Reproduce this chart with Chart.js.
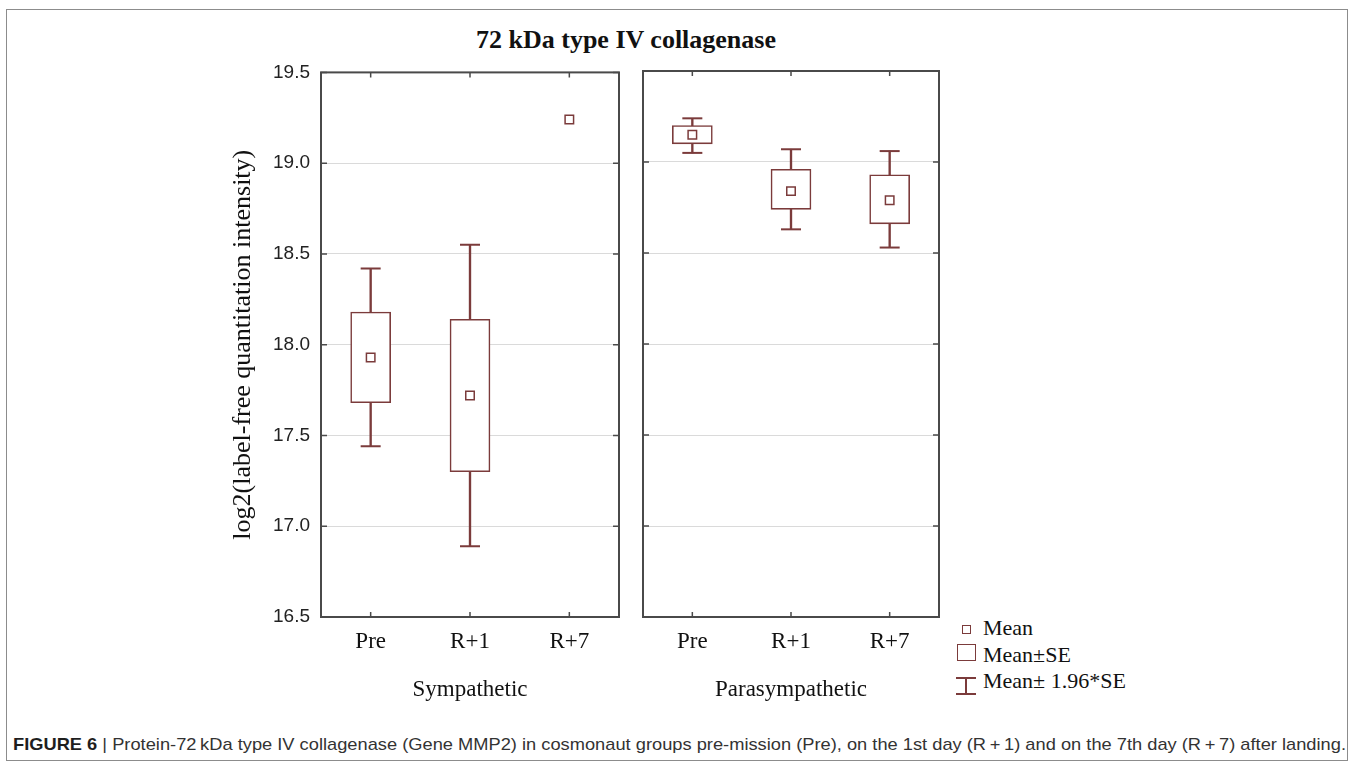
<!DOCTYPE html>
<html><head><meta charset="utf-8">
<script src="https://cdn.jsdelivr.net/npm/chart.js@4.4.1/dist/chart.umd.min.js"></script>
<style>
html,body{margin:0;padding:0;background:#fff;width:1356px;height:770px;overflow:hidden;}
#frame{position:absolute;left:6px;top:9px;width:1342px;height:752px;border:1.5px solid #8c8c8c;box-sizing:border-box;}
#title{position:absolute;left:326px;width:600px;top:25px;line-height:30px;text-align:center;font:bold 26px "Liberation Serif";color:#111;}
canvas{position:absolute;}
.lg{position:absolute;left:983px;font:22px "Liberation Serif";color:#111;line-height:26px;white-space:nowrap;}
.ic{position:absolute;box-sizing:border-box;border:1.5px solid #7b3b3b;}
#caption{position:absolute;left:13px;top:735px;font:17px "Liberation Sans";color:#333;white-space:nowrap;transform-origin:0 0;line-height:20px;}
#caption b{color:#1e1e1e;}
</style></head>
<body>
<div id="frame"></div>
<div id="title">72 kDa type IV collagenase</div>
<canvas id="cL" width="430" height="670" style="left:201px;top:50px"></canvas>
<canvas id="cR" width="320" height="670" style="left:631px;top:50px"></canvas>
<div class="ic" style="left:962px;top:625px;width:9px;height:9px"></div>
<div class="lg" style="top:615px">Mean</div>
<div class="ic" style="left:957px;top:644px;width:19px;height:17px"></div>
<div class="lg" style="top:642px">Mean±SE</div>
<div style="position:absolute;left:956px;top:677px;width:20px;height:2px;background:#7b3b3b"></div>
<div style="position:absolute;left:965px;top:677px;width:1.6px;height:18px;background:#7b3b3b"></div>
<div style="position:absolute;left:956px;top:693px;width:20px;height:2px;background:#7b3b3b"></div>
<div class="lg" style="top:668px">Mean± 1.96*SE</div>
<div id="caption"><b>FIGURE 6</b> | Protein-72&#8201;kDa type IV collagenase (Gene MMP2) in cosmonaut groups pre-mission (Pre), on the 1st day (R&#8201;+&#8201;1) and on the 7th day (R&#8201;+&#8201;7) after landing.</div>
<script>
const categories = ['Pre', 'R+1', 'R+7'];
const yTicks = [16.5, 17.0, 17.5, 18.0, 18.5, 19.0, 19.5];
const groupNames = ['Sympathetic', 'Parasympathetic'];

const symMean = [17.93, 17.72, 19.24];
const symSeLo = [17.68, 17.30, null];
const symSeHi = [18.18, 18.14, null];
const symCiLo = [17.44, 16.89, null];
const symCiHi = [18.42, 18.55, null];

const paraMean = [19.15, 18.84, 18.79];
const paraSeLo = [19.10, 18.74, 18.66];
const paraSeHi = [19.20, 18.96, 18.93];
const paraCiLo = [19.05, 18.63, 18.53];
const paraCiHi = [19.24, 19.07, 19.06];

const MAROON = '#7b3b3b';

function pair(a, b) { return a.map((v, i) => (v == null || b[i] == null) ? null : [v, b[i]]); }

function makeDatasets(mean, seLo, seHi, ciLo, ciHi) {
  return [
    {type: 'line', label: 'Mean', data: mean, showLine: false, pointStyle: 'rect', pointRadius: 6,
     pointBackgroundColor: '#fff', pointBorderColor: MAROON, pointBorderWidth: 1.5, order: 0},
    {type: 'bar', label: 'Mean±SE', data: pair(seLo, seHi), backgroundColor: '#fff', borderColor: MAROON,
     borderWidth: 1.6, borderSkipped: false, barThickness: 40, grouped: false, order: 1},
    {type: 'line', label: 'upper', data: ciHi, showLine: false, pointStyle: 'line', pointRadius: 10,
     pointBorderColor: MAROON, pointBorderWidth: 2, order: 2},
    {type: 'line', label: 'lower', data: ciLo, showLine: false, pointStyle: 'line', pointRadius: 10,
     pointBorderColor: MAROON, pointBorderWidth: 2, order: 2},
    {type: 'bar', label: 'Mean±1.96*SE', data: pair(ciLo, ciHi), backgroundColor: MAROON, borderWidth: 0,
     barThickness: 1.7, grouped: false, order: 3}
  ];
}

const framePlugin = {
  id: 'frame',
  afterDatasetsDraw(chart) {
    const {ctx, chartArea: a, scales: {x, y}} = chart;
    ctx.save();
    ctx.strokeStyle = '#4a4a4a';
    ctx.lineWidth = 2;
    ctx.strokeRect(a.left, a.top, a.right - a.left, a.bottom - a.top);
    ctx.lineWidth = 1.5;
    ctx.beginPath();
    categories.forEach((c, i) => {
      const px = x.getPixelForValue(i);
      ctx.moveTo(px, a.top); ctx.lineTo(px, a.top + 5);
      ctx.moveTo(px, a.bottom); ctx.lineTo(px, a.bottom - 5);
    });
    yTicks.forEach(v => {
      const py = y.getPixelForValue(v);
      ctx.moveTo(a.left, py); ctx.lineTo(a.left + 6, py);
      ctx.moveTo(a.right, py); ctx.lineTo(a.right - 6, py);
    });
    ctx.stroke();
    ctx.restore();
  }
};

function makeChart(id, datasets, groupName, isLeft) {
  return new Chart(document.getElementById(id), {
    type: 'bar',
    data: {labels: categories, datasets: datasets},
    options: {
      responsive: false, animation: false, events: [],
      layout: {padding: isLeft ? {left: 0, right: 10, top: 21, bottom: 0} : {left: 11, right: 9, top: 21, bottom: 0}},
      plugins: {legend: {display: false}, tooltip: {enabled: false}},
      scales: {
        x: {
          offset: true,
          grid: {display: false, drawTicks: false},
          border: {display: false},
          ticks: {font: {family: 'Liberation Serif', size: 23}, color: '#111', padding: 11},
          title: {display: true, text: groupName, font: {family: 'Liberation Serif', size: 23}, color: '#111',
                  padding: {top: 0, bottom: 16}},
          afterFit: s => { s.height = 103; }
        },
        y: {
          min: 16.5, max: 19.5,
          grid: {color: '#dadada', lineWidth: 1, drawTicks: false},
          border: {display: false},
          ticks: {
            display: isLeft, stepSize: 0.5, padding: 11,
            font: {family: 'Liberation Sans', size: 19}, color: '#222',
            callback: v => Number(v).toFixed(1)
          },
          title: {display: isLeft, text: 'log2(label-free quantitation intensity)',
                  font: {family: 'Liberation Serif', size: 26}, color: '#111', padding: {top: 27, bottom: 0}},
          afterFit: s => { s.width = isLeft ? 120 : 0; }
        }
      }
    },
    plugins: [framePlugin]
  });
}

makeChart('cL', makeDatasets(symMean, symSeLo, symSeHi, symCiLo, symCiHi), groupNames[0], true);
makeChart('cR', makeDatasets(paraMean, paraSeLo, paraSeHi, paraCiLo, paraCiHi), groupNames[1], false);

function fitCaption() {
  const c = document.getElementById('caption');
  c.style.transform = 'none';
  const w = c.getBoundingClientRect().width;
  c.style.transform = 'scaleX(' + (1333 / w) + ')';
}
fitCaption();
if (document.fonts && document.fonts.ready) document.fonts.ready.then(fitCaption);
</script>
</body></html>
